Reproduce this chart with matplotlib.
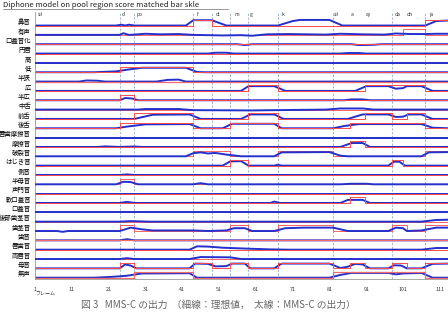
import matplotlib
matplotlib.use("Agg")
import matplotlib.pyplot as plt
from matplotlib.lines import Line2D

plt.rcParams['font.family'] = ['Noto Sans CJK JP', 'DejaVu Sans']

# ---- text ----
title = "Diphone model on pool region score matched bar skle"
caption = "図 3   MMS-C の出力  （細線：理想値，  太線：MMS-C の出力）"
frame_label = "フレーム"

row_labels = ["鼻音", "有声", "口蓋音化", "円唇", "高", "低", "半狭", "広",
              "半広", "中舌", "前舌", "後舌", "唇歯摩擦音", "摩擦音", "破裂音",
              "はじき音", "側音", "半母音", "声門音", "軟口蓋音", "口蓋音",
              "後部歯茎音", "歯茎音", "歯音", "唇歯音", "両唇音", "母音", "無声"]

frame_ticks = [1, 11, 21, 31, 41, 51, 61, 71, 81, 91, 101, 111]
boundaries = [24, 28, 44, 49, 54, 59, 67, 82, 98, 107]
phone_pos = [1.5, 24.4, 28.4, 44.7, 49.9, 54.8, 59, 67.8, 82, 86.6, 90.6, 98.3, 101.8, 107.8]
phone_names = ["sil", "d", "po", "f", "di", "m", "g", "k", "sil", "a", "ay", "da", "dn", "ja"]

# ---- ideal (red): active intervals in frames ----
red_00 = [(44, 49), (107, 113.5)]
red_01 = [(101, 107)]
red_02 = []
red_03 = []
red_04 = []
red_05 = [(24, 44)]
red_06 = []
red_07 = [(59, 67), (90.6, 107)]
red_08 = [(24, 28)]
red_09 = []
red_10 = [(28, 44), (59, 67), (90.6, 98), (102, 107)]
red_11 = [(24, 44), (54, 67), (86.6, 107)]
red_12 = []
red_13 = [(86.6, 90.6)]
red_14 = [(44, 54), (67, 82), (107, 113.5)]
red_15 = [(54, 59), (98, 101)]
red_16 = []
red_17 = [(24, 28)]
red_18 = []
red_19 = [(86.6, 90.6)]
red_20 = []
red_21 = []
red_22 = [(24, 28), (54, 59), (67, 82), (98, 102), (107, 113.5)]
red_23 = []
red_24 = []
red_25 = []
red_26 = [(24, 28), (44, 49), (54, 59), (67, 82), (86.6, 90.6), (98, 102), (107, 113.5)]
red_27 = [(28, 44), (82, 107)]

# ---- MMS-C output (blue): (frame, value) ----
blue_00 = [(1, 0), (23, 0), (24.5, 0.15), (25.5, 0), (26.5, 0.15), (28, 0), (42, 0), (44, 0.95),
           (49, 0.95), (53, 0), (67, 0), (71, 0.8), (73, 1), (81, 1), (84.5, 0), (107, 0),
           (110, 0.8), (113.5, 0.9)]
blue_01 = [(1, 0), (24, 0), (25, 0.3), (26.5, 0), (28, 0.05), (31, 0.2), (35, 0.1), (40, 0.15),
           (44, 0), (52, -0.1), (57, -0.05), (60, -0.15), (64, 0.1), (70, 0.15), (80, 0.05),
           (84, 0.2), (90, 0.1), (96, 0.05), (99, 0.25), (103, 0.15), (107, 0.15), (110, 0.2),
           (113.5, 0.2)]
blue_02 = [(1, 0), (56, 0), (58, -0.15), (60, 0), (87, 0), (89, -0.15), (93, -0.1), (95, 0), (113.5, 0)]
blue_03 = [(1, 0), (48, 0), (50, 0.15), (53, 0.15), (55, 0), (84, 0), (86, 0.1), (89, 0.1), (91, 0),
           (113.5, 0)]
blue_04 = [(1, 0), (113.5, 0)]
blue_05 = [(1, 0), (17, 0), (23, 0.15), (26, 0.45), (30, 0.8), (42, 0.8), (45, 0.05), (47, 0),
           (113.5, 0)]
blue_06 = [(1, 0), (13, 0), (15, 0.2), (18, 0.15), (20, 0), (34, 0), (37, 0.3), (40, 0.35), (42, 0),
           (113.5, 0)]
blue_07 = [(1, 0), (57, 0), (59, 0.85), (66, 0.85), (69, 0), (88, 0), (91, 0.85), (97, 0.85),
           (99, 0.4), (101, 0.5), (102, 0.85), (106, 0.85), (109, 0), (113.5, 0)]
blue_08 = [(1, 0), (24, 0), (25.5, 0.4), (27.5, 0.3), (29, 0), (85, 0), (87, 0.15), (90, 0.15),
           (92, 0), (113.5, 0)]
blue_09 = [(1, 0), (29, 0), (31, 0.1), (40, 0.1), (44, -0.1), (60, -0.15), (66, -0.1), (80, 0),
           (84, 0.2), (90, 0.2), (93, 0), (113.5, 0)]
blue_10 = [(1, 0), (28, 0), (33, 0.75), (43, 0.8), (46, 0), (57, 0), (59.5, 0.8), (66, 0.8),
           (68.5, 0), (86, 0), (90, 0.8), (97, 0.8), (99, 0.35), (101, 0.4), (102.5, 0.8),
           (106, 0.8), (109, 0), (113.5, 0)]
blue_11 = [(1, 0), (23, 0), (26, 0.3), (31, 0.7), (43, 0.75), (46, 0), (52, 0), (54.5, 0.8),
           (66, 0.8), (68, 0), (82, 0), (85, 0.4), (89, 0.75), (106, 0.75), (109, 0.1), (113.5, 0)]
blue_12 = [(1, 0), (113.5, 0)]
blue_13 = [(1, 0), (18, 0), (20, 0.1), (24, 0), (28, 0.08), (30, 0), (84, 0), (87, 0.7), (90, 0.7),
           (92, 0), (113.5, 0)]
blue_14 = [(1, 0), (42, 0), (44, 0.55), (46, 0.7), (48, 0.5), (50, 0.6), (53, 0.3), (57, 0),
           (66, 0), (68, 0.7), (81, 0.75), (84, 0.1), (86, 0), (106, 0), (108, 0.7), (113.5, 0.75)]
blue_15 = [(1, 0), (52, 0), (54, 0.75), (57, 0.8), (59, 0), (66, 0), (67, 0.15), (68, 0), (97, 0),
           (98.5, 0.7), (100, 0.7), (101.5, 0), (113.5, 0)]
blue_16 = [(1, 0), (24, 0), (26, 0.1), (28, 0), (113.5, 0)]
blue_17 = [(1, 0), (23, 0), (25, 0.45), (27, 0.4), (29, 0), (44, 0), (46, 0.2), (48, 0), (84, 0),
           (87, 0.1), (91, 0.1), (93, 0), (113.5, 0)]
blue_18 = [(1, 0), (113.5, 0)]
blue_19 = [(1, 0), (24, 0), (26, 0.2), (28, 0), (65, 0), (66, 0.25), (67.5, 0), (84, 0),
           (86, 0.55), (90, 0.55), (92, 0), (113.5, 0)]
blue_20 = [(1, 0), (113.5, 0)]
blue_21 = [(1, 0), (24, 0), (27, 0.1), (32, 0), (106, 0), (110, 0.3), (113.5, 0.35)]
blue_22 = [(1, 0), (7, 0), (8.5, -0.15), (10, 0), (24, 0), (27, 0.6), (30, 0.3), (33, 0.1),
           (44, 0.1), (48, 0), (53, 0.1), (55, 0.5), (58, 0.5), (60, 0), (66, 0), (69, 0.5),
           (74, 0.6), (82, 0.6), (86, 0), (97, 0), (99, 0.6), (101, 0.5), (102, 0), (106, 0.1),
           (110, 0.6), (113.5, 0.6)]
blue_23 = [(1, 0), (24, 0), (26, 0.2), (28, 0), (113.5, 0)]
blue_24 = [(1, 0), (43, 0), (45, 0.6), (48, 0.55), (52, 0.35), (58, 0.2), (65, 0.05), (70, 0),
           (106, 0), (110, 0.3), (113.5, 0.3)]
blue_25 = [(1, 0), (24, 0), (26, 0.15), (28, 0), (43, 0), (46, 0.35), (54, 0.3), (57, 0), (113.5, 0)]
blue_26 = [(1, 0), (24, 0), (25.5, 0.7), (27, 0.5), (28.5, 0), (43, 0), (44.5, 0.85), (48, 0.8),
           (50, 0.35), (53, 0.4), (54.5, 0.85), (58, 0.85), (59.5, 0), (66, 0), (68, 0.85),
           (81, 0.85), (84, 0.05), (86, 0.3), (88, 0.8), (90, 0.7), (92, 0), (97, 0),
           (98.5, 0.55), (100.5, 0.5), (102, 0), (106, 0), (109, 0.8), (113.5, 0.85)]
blue_27 = [(1, 0), (17, 0), (22, 0.15), (26, 0.35), (30, 0.75), (43, 0.8), (45, 0), (81, 0),
           (84, 0.5), (87, 0.85), (97, 0.85), (99, 0.6), (101, 0.75), (106, 0.85), (109, 0),
           (113.5, 0)]

ideal = [red_00, red_01, red_02, red_03, red_04, red_05, red_06, red_07, red_08, red_09,
         red_10, red_11, red_12, red_13, red_14, red_15, red_16, red_17, red_18, red_19,
         red_20, red_21, red_22, red_23, red_24, red_25, red_26, red_27]
output = [blue_00, blue_01, blue_02, blue_03, blue_04, blue_05, blue_06, blue_07, blue_08,
          blue_09, blue_10, blue_11, blue_12, blue_13, blue_14, blue_15, blue_16, blue_17,
          blue_18, blue_19, blue_20, blue_21, blue_22, blue_23, blue_24, blue_25, blue_26,
          blue_27]

# which line sits on top in each row (blue rows: thick blue covers the red)
blue_rows = [1, 4, 9, 12, 14, 17, 20, 21, 22, 25]
pink_rows = [6, 23, 27]

XMIN, XMAX = 1, 113.2
AMP = 0.6
RED = '#ff4a4a'
BLUE = '#2430cc'
n = len(row_labels)

fig = plt.figure(figsize=(4.48, 3.12), dpi=100)
ax = fig.add_axes([35 / 448, 33 / 312, 413 / 448, 267 / 312])

for k in range(n):
    off = n - 1 - k
    rx, ry = [XMIN], [off]
    for a, b in ideal[k]:
        rx += [a, a, b, b]
        ry += [off, off + AMP, off + AMP, off]
    rx.append(XMAX + 1)
    ry.append(off)
    bx = [p[0] for p in output[k]]
    by = [off + AMP * p[1] for p in output[k]]
    if k in blue_rows:
        zr, zb, lr, cr = 2, 3, 0.6, RED
    elif k in pink_rows:
        zr, zb, lr, cr = 3, 2, 0.9, '#f26a6a'
    else:
        zr, zb, lr, cr = 3, 2, 0.7, RED
    ax.plot(rx, ry, color=cr, lw=lr, zorder=zr)
    ax.plot(bx, by, color=BLUE, lw=1.4, zorder=zb)

for b in boundaries:
    ax.axvline(b, color='#8aa4cc', lw=0.55, ls=(0, (3, 2)), zorder=1)

for x, name in zip(phone_pos, phone_names):
    ax.text(x + 0.3, 28.13, name, fontsize=3.6, color='#333333', va='center', ha='left')

ax.set_xlim(XMIN, XMAX)
ax.set_ylim(-0.14, 28.45)
ax.set_yticks([n - 1 - k + 0.45 for k in range(n)])
ax.set_yticklabels(row_labels, fontsize=4.6)
ax.set_xticks(frame_ticks)
ax.set_xticklabels([str(t) for t in frame_ticks], fontsize=3.8, color='#333333')
ax.tick_params(axis='both', length=0)
ax.tick_params(axis='y', pad=3)
ax.tick_params(axis='x', pad=6)
for s in ['top', 'right']:
    ax.spines[s].set_visible(False)
for s in ['left', 'bottom']:
    ax.spines[s].set_color('#9a9a9a')
    ax.spines[s].set_linewidth(0.6)

fig.text(35 / 448, 1 - 294 / 312, frame_label, fontsize=3.6, color='#333333', va='center')
fig.text(3 / 448, 1 - 5 / 312, title, fontsize=5.6, color='#222222', va='center')
fig.add_artist(Line2D([3 / 448, 228 / 448], [1 - 9 / 312, 1 - 9 / 312], color='#444444', lw=0.4))
fig.text(218 / 448, 1 - 305 / 312, caption, fontsize=7, color='#666666', va='center', ha='center')

fig.savefig('out.png', dpi=100)
